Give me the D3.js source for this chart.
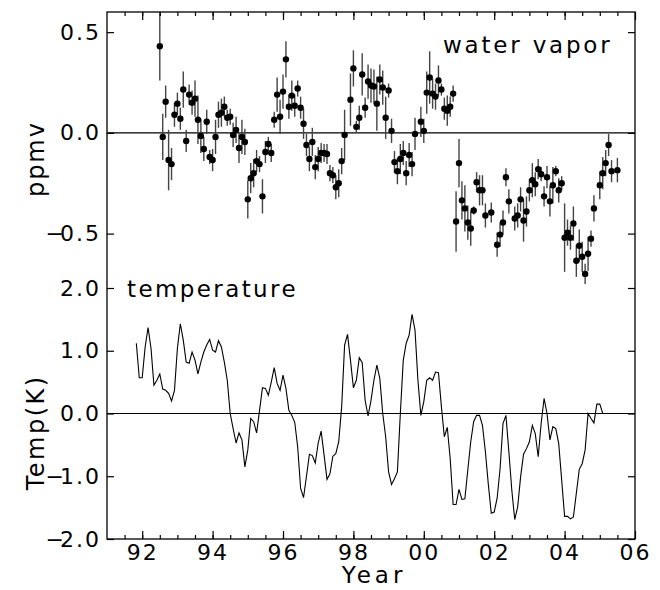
<!DOCTYPE html>
<html>
<head>
<meta charset="utf-8">
<script src="https://cdn.jsdelivr.net/npm/d3@7"></script>
<style>
  body { margin: 0; background: #fff; }
  text { font-family: "DejaVu Sans", sans-serif; fill: #000; }
</style>
</head>
<body>
<div id="chart-area"></div>
<script>

let width = 660,
    height = 590;

// water vapor anomaly (ppmv), monthly from Jul 1992, null = no data
let wvStart = 1992.5;
let wvValue = [
  0.43, -0.02, 0.155, -0.135, -0.155, 0.09, 0.145, 0.07, 0.215, -0.04,
  0.19, 0.15, 0.17, 0.065, -0.015, -0.08, 0.055, -0.12, -0.135, -0.02,
  0.09, 0.1, 0.13, 0.075, 0.08, -0.01, 0.015, -0.075, -0.02, -0.045,
  -0.33, -0.225, -0.2, -0.14, -0.155, -0.315, -0.095, -0.055, -0.1, 0.065,
  0.19, 0.08, 0.205, 0.365, 0.13, 0.185, 0.135, 0.22, 0.125, 0.045,
  -0.06, -0.13, -0.045, -0.17, -0.13, -0.1, -0.1, -0.105, -0.2, -0.21,
  -0.27, -0.25, -0.14, -0.01, null, 0.165, 0.32, 0.03, 0.075, 0.29,
  0.125, 0.255, 0.235, 0.23, 0.145, 0.265, 0.225, 0.075, 0.21, 0.01,
  -0.145, -0.19, -0.13, -0.1, -0.2, -0.11, -0.155, -0.005, null, 0.055,
  0.01, 0.2, 0.275, 0.195, 0.18, 0.26, 0.215, 0.12, 0.11, 0.13,
  0.195, -0.44, -0.15, -0.335, -0.375, -0.445, -0.475, -0.385, -0.245, -0.285,
  -0.285, -0.41, null, -0.395, null, -0.555, -0.505, -0.445, -0.22, -0.34,
  null, -0.425, -0.41, -0.33, -0.435, -0.39, -0.285, -0.235, -0.255, -0.18,
  -0.205, -0.315, -0.22, -0.34, -0.26, -0.19, -0.285, -0.25, -0.52, -0.495,
  -0.52, -0.45, -0.635, -0.56, -0.615, -0.70, -0.6, -0.525, -0.375, null,
  -0.26, -0.2, -0.15, -0.06, -0.19, null, -0.185
];
let wvError = [
  0.17, 0.115, 0.08, 0.15, 0.08, 0.06, 0.055, 0.055, 0.09, 0.055,
  0.05, 0.06, 0.09, 0.12, 0.085, 0.06, 0.06, 0.035, 0.055, 0.085,
  0.065, 0.07, 0.05, 0.04, 0.04, 0.06, 0.065, 0.075, 0.085, 0.065,
  0.095, 0.075, 0.07, 0.055, 0.04, 0.085, 0.055, 0.035, 0.045, 0.04,
  0.085, 0.085, 0.085, 0.09, 0.06, 0.075, 0.055, 0.04, 0.055, 0.075,
  0.055, 0.06, 0.07, 0.06, 0.06, 0.05, 0.045, 0.05, 0.04, 0.04,
  0.06, 0.07, 0.065, 0.125, null, 0.13, 0.09, 0.03, 0.06, 0.105,
  0.05, 0.085, 0.085, 0.085, 0.135, 0.075, 0.085, 0.105, 0.035, 0.06,
  0.055, 0.065, 0.075, 0.06, 0.06, 0.06, 0.06, 0.08, null, 0.075,
  0.06, 0.105, 0.13, 0.075, 0.065, 0.075, 0.03, 0.055, 0.075, 0.05,
  0.04, 0.15, 0.12, 0.095, 0.115, 0.085, 0.085, 0.02, 0.05, 0.075,
  0.075, 0.06, null, 0.05, null, 0.06, 0.06, 0.06, 0.045, 0.06,
  null, 0.06, 0.06, 0.06, 0.105, 0.075, 0.055, 0.085, 0.06, 0.05,
  0.035, 0.05, 0.055, 0.075, 0.09, 0.025, 0.06, 0.035, 0.17, 0.065,
  0.06, 0.085, 0.08, 0.08, 0.075, 0.05, 0.085, 0.04, 0.065, null,
  0.07, 0.08, 0.065, 0.055, 0.055, null, 0.06
];

// temperature anomaly (K), monthly from Nov 1991
let tempStart = 1991 + 10 / 12;
let tempValue = [
  1.12, 0.57, 0.57, 1.06, 1.37, 1.04, 0.45, 0.53, 0.63, 0.39,
  0.37, 0.32, 0.2, 0.37, 1.04, 1.43, 1.17, 0.82, 0.8, 0.98,
  0.85, 0.63, 0.82, 0.98, 1.09, 1.18, 1.01, 0.98, 1.16, 1.06,
  0.82, 0.53, 0.0, -0.24, -0.47, -0.31, -0.42, -0.85, -0.58, -0.08,
  -0.13, -0.31, 0.05, 0.41, 0.4, 0.29, 0.5, 0.73, 0.48, 0.37,
  0.61, 0.4, 0.05, -0.03, -0.14, -0.53, -1.19, -1.34, -1.0, -0.65,
  -0.67, -0.79, -0.47, -0.28, -0.66, -1.05, -0.96, -0.68, -0.64, -0.45,
  0.11, 1.09, 1.26, 0.85, 0.41, 0.53, 0.89, 0.81, 0.21, -0.04,
  0.21, 0.53, 0.77, 0.56, 0.0, -0.37, -0.93, -1.13, -1.04, -0.93,
  0.0, 0.85, 1.12, 1.25, 1.58, 1.33, 0.53, -0.03, 0.19, 0.53,
  0.57, 0.53, 0.66, 0.65, 0.11, -0.37, -0.22, -0.72, -1.45, -1.45,
  -1.21, -1.37, -1.36, -0.9, -0.45, -0.13, -0.03, -0.03, -0.19, -0.61,
  -1.13, -1.59, -1.57, -1.35, -0.88, -0.16, -0.03, -0.61, -1.22, -1.69,
  -1.49, -1.01, -0.65, -0.56, -0.45, -0.19, -0.32, -0.69, -0.16, 0.24,
  0.0, -0.42, -0.21, -0.24, -0.48, -1.06, -1.64, -1.64, -1.68, -1.65,
  -1.27, -0.89, -0.8, -0.58, 0.0, -0.08, -0.15, 0.15, 0.15, 0.0,
  0.0, 0.0, 0.0, 0.0, 0.0, 0.0
];

let yearTicks = [1992, 1994, 1996, 1998, 2000, 2002, 2004, 2006];
let yearLabels = ["92", "94", "96", "98", "00", "02", "04", "06"];
let halfYears = d3.range(1991.5, 2006, 0.5);
let wvTicks = [0.5, 0.0, -0.5];
let tempTicks = [2.0, 1.0, 0.0, -1.0, -2.0];

let wv = wvValue.map((v, i) => ({ year: wvStart + i / 12, value: v, err: wvError[i] }))
  .filter(d => d.value !== null);
let temp = tempValue.map((v, i) => ({ year: tempStart + i / 12, value: v }));

let plotLeft = 107, plotRight = 635, plotTop = 12, plotBottom = 539, split = 288;

let svg = d3.select("#chart-area").append("svg")
  .attr("width", width)
  .attr("height", height);

// SCALES
let x = d3.scaleLinear().domain([1991, 2006]).range([plotLeft, plotRight]);
let yWV = d3.scaleLinear().domain([-0.77, 0.6]).range([split, plotTop]);
let yT = d3.scaleLinear().domain([-2, 2]).range([plotBottom, split]);

svg.append("clipPath").attr("id", "clipTop")
  .append("rect").attr("x", plotLeft).attr("y", plotTop)
  .attr("width", plotRight - plotLeft).attr("height", split - plotTop);

// ZERO LINES
svg.append("line")
  .attr("x1", plotLeft).attr("x2", plotRight)
  .attr("y1", yWV(0)).attr("y2", yWV(0))
  .attr("stroke", "#000").attr("stroke-width", 1.2);
svg.append("line")
  .attr("x1", plotLeft).attr("x2", plotRight)
  .attr("y1", yT(0)).attr("y2", yT(0))
  .attr("stroke", "#000").attr("stroke-width", 1.2);

// WATER VAPOR: ERROR BARS + DOTS
let wvG = svg.append("g").attr("clip-path", "url(#clipTop)");
wvG.selectAll(".err")
  .data(wv)
  .enter().append("line")
  .attr("class", "err")
  .attr("x1", d => x(d.year)).attr("x2", d => x(d.year))
  .attr("y1", d => yWV(d.value + d.err))
  .attr("y2", d => yWV(d.value - d.err))
  .attr("stroke", "#444")
  .attr("stroke-width", 1.4);
wvG.selectAll(".dot")
  .data(wv)
  .enter().append("circle")
  .attr("class", "dot")
  .attr("cx", d => x(d.year))
  .attr("cy", d => yWV(d.value))
  .attr("r", 3.2)
  .attr("fill", "#000");

// TEMPERATURE LINE
let line = d3.line()
  .x(d => x(d.year))
  .y(d => yT(d.value));
svg.append("path")
  .datum(temp)
  .attr("d", line)
  .attr("fill", "none")
  .attr("stroke", "#000")
  .attr("stroke-width", 1.1);

// AXES (ticks pointing inward)
function clean(g) {
  g.select(".domain").remove();
  g.selectAll("line").attr("stroke", "#000").attr("stroke-width", 1.2);
}

// tick labels: wide spacing, tighter minus sign
function labels(g) {
  g.selectAll("text")
    .attr("font-size", 22)
    .attr("letter-spacing", 2)
    .each(function(d) {
      if (d < 0) {
        let t = d3.select(this), s = t.text();
        t.text(null);
        t.append("tspan").attr("letter-spacing", -4).text(s[0]);
        t.append("tspan").text(s.slice(1));
      }
    });
}

svg.append("g")
  .attr("transform", `translate(0,${plotBottom})`)
  .call(d3.axisBottom(x).tickValues(halfYears).tickSize(-4).tickFormat(""))
  .call(clean);
svg.append("g")
  .attr("transform", `translate(0,${plotBottom})`)
  .call(d3.axisBottom(x).tickValues(yearTicks).tickSize(-8).tickPadding(5)
    .tickFormat((d, i) => yearLabels[i]))
  .call(clean)
  .call(labels);

svg.append("g")
  .attr("transform", `translate(0,${plotTop})`)
  .call(d3.axisTop(x).tickValues(halfYears).tickSize(-4).tickFormat(""))
  .call(clean);
svg.append("g")
  .attr("transform", `translate(0,${plotTop})`)
  .call(d3.axisTop(x).tickValues(yearTicks).tickSize(-8).tickFormat(""))
  .call(clean);

svg.append("g")
  .attr("transform", `translate(${plotLeft},0)`)
  .call(d3.axisLeft(yWV).tickValues(wvTicks).tickSize(-7).tickPadding(6)
    .tickFormat(d3.format(".1f")))
  .call(clean)
  .call(labels);
svg.append("g")
  .attr("transform", `translate(${plotLeft},0)`)
  .call(d3.axisLeft(yT).tickValues(tempTicks).tickSize(-7).tickPadding(6)
    .tickFormat(d3.format(".1f")))
  .call(clean)
  .call(labels);

svg.append("g")
  .attr("transform", `translate(${plotRight},0)`)
  .call(d3.axisRight(yWV).tickValues(wvTicks).tickSize(-7).tickFormat(""))
  .call(clean);
svg.append("g")
  .attr("transform", `translate(${plotRight},0)`)
  .call(d3.axisRight(yT).tickValues(tempTicks).tickSize(-7).tickFormat(""))
  .call(clean);

// FRAME
svg.append("rect")
  .attr("x", plotLeft).attr("y", plotTop)
  .attr("width", plotRight - plotLeft).attr("height", plotBottom - plotTop)
  .attr("fill", "none")
  .attr("stroke", "#000")
  .attr("stroke-width", 1.3);

// LABELS
svg.append("text")
  .attr("transform", `translate(44,${yWV(-0.13)}) rotate(-90)`)
  .attr("text-anchor", "middle")
  .attr("font-size", 24).attr("letter-spacing", 2)
  .text("ppmv");
svg.append("text")
  .attr("transform", `translate(44,${yT(-0.3)}) rotate(-90)`)
  .attr("text-anchor", "middle")
  .attr("font-size", 24).attr("letter-spacing", 2.5)
  .text("Temp(K)");
svg.append("text")
  .attr("x", 374).attr("y", 583)
  .attr("text-anchor", "middle")
  .attr("font-size", 23).attr("letter-spacing", 4)
  .text("Year");
svg.append("text")
  .attr("x", 443).attr("y", 53)
  .attr("font-size", 23).attr("letter-spacing", 2.8)
  .text("water vapor");
svg.append("text")
  .attr("x", 127).attr("y", 297)
  .attr("font-size", 23).attr("letter-spacing", 2.4)
  .text("temperature");

</script>
</body>
</html>
